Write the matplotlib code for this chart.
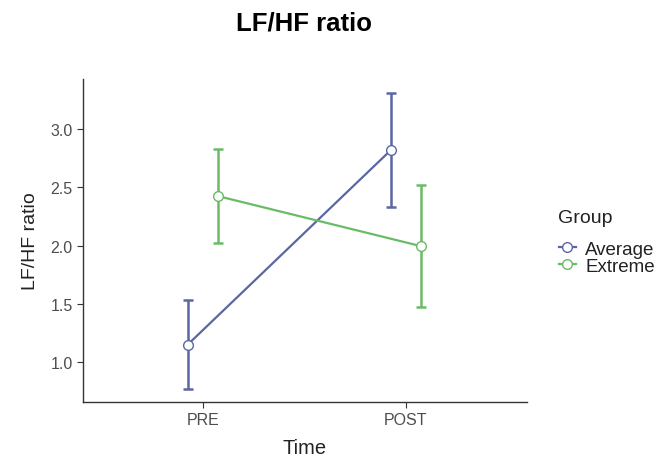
import matplotlib
matplotlib.use("Agg")
import matplotlib.pyplot as plt
import numpy as np

plt.rcParams['font.family'] = ['Liberation Sans', 'DejaVu Sans']

times = ["PRE", "POST"]
groups = ["Average", "Extreme"]
means = {"Average": [1.15, 2.82], "Extreme": [2.425, 1.995]}
lower = {"Average": [0.77, 2.33], "Extreme": [2.02, 1.47]}
upper = {"Average": [1.53, 3.31], "Extreme": [2.83, 2.52]}
colors = {"Average": "#5a67a3", "Extreme": "#69bb67"}
offsets = {"Average": -0.074, "Extreme": 0.074}

fig = plt.figure(figsize=(6.71, 4.60), dpi=100)
ax = fig.add_axes([0.1237, 0.124, 0.6613, 0.702])

x = np.arange(len(times))
handles = []
for g in groups:
    xs = x + offsets[g]
    m = np.array(means[g])
    lo = m - np.array(lower[g])
    hi = np.array(upper[g]) - m
    ax.errorbar(xs, m, yerr=[lo, hi], fmt='none', ecolor=colors[g],
                elinewidth=1.8, capsize=3.5, capthick=1.8, zorder=2)
    h, = ax.plot(xs, m, color=colors[g], lw=1.6, marker='o', markersize=7,
                 markerfacecolor='white', markeredgecolor=colors[g],
                 markeredgewidth=1.0, zorder=3, label=g)
    handles.append(h)

ax.set_xlim(-0.59, 1.595)
ax.set_ylim(0.657, 3.43)
ax.set_xticks(x)
ax.set_xticklabels(times)
ax.set_yticks([1.0, 1.5, 2.0, 2.5, 3.0])
ax.set_yticklabels(["1.0", "1.5", "2.0", "2.5", "3.0"])
for s in ["top", "right"]:
    ax.spines[s].set_visible(False)
for s in ["left", "bottom"]:
    ax.spines[s].set_color("#333333")
    ax.spines[s].set_linewidth(1.0)
ax.tick_params(colors="#333333", labelcolor="#4d4d4d", labelsize=11.5, length=4)
ax.set_xlabel("Time", fontsize=14.5, color="#222222", labelpad=8)
ax.set_ylabel("LF/HF ratio", fontsize=14, color="#222222", labelpad=8)

fig.suptitle("LF/HF ratio", fontsize=18.5, fontweight='bold', x=0.453, y=0.975)

fig.text(0.832, 0.524, "Group", fontsize=14, color="#222222", ha='left', va='center')
leg = fig.legend(handles=handles, loc='center left',
                 bbox_to_anchor=(0.833, 0.438), frameon=False, fontsize=13.5,
                 handlelength=0.9, handletextpad=0.5,
                 labelspacing=0.0, borderaxespad=0.0, borderpad=0.0)
for t in leg.get_texts():
    t.set_color("#222222")

fig.savefig("out.png", dpi=100)
